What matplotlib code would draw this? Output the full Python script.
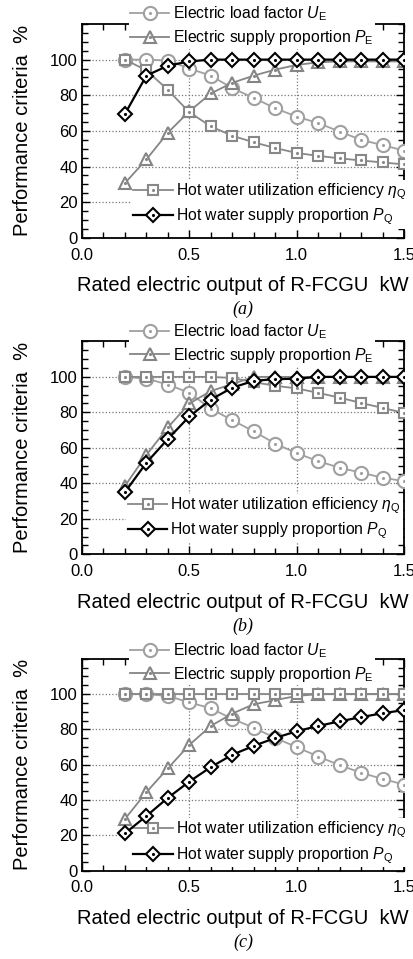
import numpy as np
import matplotlib
matplotlib.use('Agg')
import matplotlib.pyplot as plt
from matplotlib.legend_handler import HandlerTuple
from matplotlib.ticker import MultipleLocator

plt.rcParams['font.family'] = ['Liberation Sans', 'DejaVu Sans']
plt.rcParams['mathtext.fontset'] = 'custom'
plt.rcParams['mathtext.rm'] = 'Liberation Sans'
plt.rcParams['mathtext.it'] = 'Liberation Sans:italic'

# rated electric output of the unit, kW
output_kw = [0.2, 0.3, 0.4, 0.5, 0.6, 0.7, 0.8, 0.9, 1.0, 1.1, 1.2, 1.3, 1.4, 1.5]

# case (a)
ue_a = [100, 100, 99.5, 95, 91, 84, 78.5, 72.7, 68, 64.4, 59.6, 55, 52, 49]
pe_a = [30.7, 44, 59, 71, 81, 87, 91, 94.4, 97, 98.5, 99, 99, 99, 99]
eq_a = [100, 94, 83, 70.5, 62.5, 57.3, 53.6, 50.4, 47.6, 46, 44.6, 43.4, 42.3, 41.2]
pq_a = [69.5, 91, 96.6, 99, 100, 100, 100, 100, 100, 100, 100, 100, 100, 100]

# case (b)
ue_b = [100, 99, 95.7, 91, 82, 75.6, 69.3, 62.4, 57, 52.5, 48.8, 46, 43.2, 41.2]
pe_b = [38.5, 56, 71.5, 85, 92, 96, 100, 100, 100, 100, 100, 100, 100, 100]
eq_b = [100, 100, 100, 100, 100, 99.4, 97, 95, 93.5, 91, 88.3, 85.3, 82.5, 79.7]
pq_b = [35, 51.6, 65, 77.7, 87.2, 93.9, 97.8, 98.7, 99, 100, 100, 100, 100, 100]

# case (c)
ue_c = [100, 100, 99, 95.3, 92, 86, 81, 75.2, 70, 64.7, 59.8, 55.5, 52, 48.8]
pe_c = [29.3, 44.5, 58, 71.3, 82, 89, 94.3, 96.6, 99, 100, 100, 100, 100, 100]
eq_c = [100, 100, 100, 100, 100, 100, 100, 100, 100, 100, 100, 100, 100, 100]
pq_c = [21.2, 31, 41.3, 50.5, 58.7, 65.7, 70.7, 75.2, 79, 82, 84.6, 87, 89.2, 91]

cases = [
    ('(a)', ue_a, pe_a, eq_a, pq_a),
    ('(b)', ue_b, pe_b, eq_b, pq_b),
    ('(c)', ue_c, pe_c, eq_c, pq_c),
]

labels = [r'Electric load factor $U_\mathrm{E}$',
          r'Electric supply proportion $P_\mathrm{E}$',
          r'Hot water utilization efficiency $\eta_\mathrm{Q}$',
          r'Hot water supply proportion $P_\mathrm{Q}$']
styles = [('o', '#a0a0a0'), ('^', '#858585'), ('s', '#888888'), ('D', 'black')]
sizes = [9.5, 9, 7.5, 7]

fig = plt.figure(figsize=(4.14, 9.59), dpi=100)
# axes boxes: left, bottom, width, height
boxes = [(0.198, 0.752, 0.778, 0.223),
         (0.198, 0.422, 0.778, 0.222),
         (0.198, 0.092, 0.778, 0.221)]
# legend anchors (axes fraction): upper pair, lower pair
legend_at = [((0.145, 0.991), (0.155, 0.157)),
             ((0.145, 0.990), (0.138, 0.169)),
             ((0.145, 0.983), (0.155, 0.132))]

for (tag, *series), box, (up_xy, lo_xy) in zip(cases, boxes, legend_at):
    ax = fig.add_axes(box)
    handles = []
    for k, (vals, (mk, col), ms) in enumerate(zip(series, styles, sizes)):
        lw = 1.6 if mk == 'D' else 1.3
        ln, = ax.plot(output_kw, vals, marker=mk, color=col, mfc='white',
                      mec=col, mew=1.5, ms=ms, lw=lw, zorder=3 + k)
        dot, = ax.plot(output_kw, vals, ls='none', marker='.', ms=2.5,
                       color=col, zorder=3 + k)
        handles.append((ln, dot))

    ax.set_xlim(0, 1.5)
    ax.set_ylim(0, 120)
    ax.set_xticks([0, 0.5, 1.0, 1.5])
    ax.set_xticklabels(['0.0', '0.5', '1.0', '1.5'])
    ax.set_yticks([0, 20, 40, 60, 80, 100])
    ax.xaxis.set_minor_locator(MultipleLocator(0.1))
    ax.yaxis.set_minor_locator(MultipleLocator(5))
    ax.tick_params(which='both', direction='in', top=True, right=True,
                   labelsize=12, width=1.0)
    ax.tick_params(axis='y', pad=3)
    ax.tick_params(axis='x', pad=7)
    ax.tick_params(which='major', length=6)
    ax.tick_params(which='minor', length=4)
    ax.grid(True, which='major', ls=':', color='#777777', lw=0.9)
    for sp in ax.spines.values():
        sp.set_linewidth(1.3)

    ax.set_xlabel('Rated electric output of R-FCGU  kW', fontsize=14.5, labelpad=10)
    ax.set_ylabel('Performance criteria  %', fontsize=14.5, labelpad=13)

    hm = {tuple: HandlerTuple(ndivide=1)}
    opts = dict(loc='center left', fontsize=11.3, frameon=True,
                facecolor='white', edgecolor='none', framealpha=1,
                handlelength=2.5, handletextpad=0.2, labelspacing=0.3,
                borderpad=0.1, borderaxespad=0, fancybox=False,
                handler_map=hm)
    top = ax.legend(handles[:2], labels[:2], bbox_to_anchor=up_xy, **opts)
    ax.add_artist(top)
    ax.legend(handles[2:], labels[2:], bbox_to_anchor=lo_xy, **opts)

    fig.text(box[0] + box[2] / 2, box[1] - 0.075, tag, ha='center',
             va='center', fontsize=13, family='Liberation Serif', style='italic')

fig.savefig('out.png', dpi=100, facecolor='white')
